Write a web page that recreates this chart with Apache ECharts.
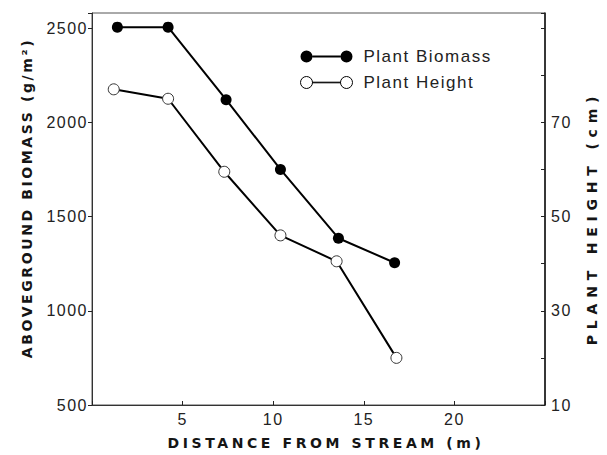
<!DOCTYPE html>
<html>
<head>
<meta charset="utf-8">
<script src="https://cdn.jsdelivr.net/npm/echarts@6/dist/echarts.min.js"></script>
<style>
  html, body { margin: 0; padding: 0; background: #fff; }
  #chart { width: 607px; height: 455px; }
</style>
</head>
<body>
<div id="chart"></div>
<script>
// Distance from the stream (m) at which each sample was taken
const biomassDistance = [1.4, 4.2, 7.4, 10.4, 13.6, 16.7];
const heightDistance  = [1.2, 4.2, 7.3, 10.4, 13.5, 16.8];

// Aboveground biomass (g/m²) and plant height (cm)
const biomassValues = [2505, 2505, 2120, 1750, 1385, 1255];
const heightValues  = [77, 75, 59.5, 46, 40.5, 20];

// Axis ticks that carry labels
const distanceTicks = [5, 10, 15, 20];
const biomassTicks  = [500, 1000, 1500, 2000, 2500];
const heightTicks   = [10, 30, 50, 70];

const seriesNames   = ['Plant Biomass', 'Plant Height'];
const distanceTitle = 'DISTANCE FROM STREAM (m)';
const biomassTitle  = 'ABOVEGROUND BIOMASS (g/m²)';
const heightTitle   = 'PLANT HEIGHT (cm)';

const ink = '#151515';
const tickFont = { fontFamily: 'Liberation Sans', fontSize: 16, color: '#222' };
const titleFont = { fontFamily: 'DejaVu Sans', fontWeight: 'bold', fontSize: 14, color: ink };

// two end dots joined by a thin bar, used as legend keys
const filledIcon = 'path://M0,6a6,6 0 1,0 12,0a6,6 0 1,0 -12,0z' +
                   'M12,5h28v2h-28z' +
                   'M40,6a6,6 0 1,0 12,0a6,6 0 1,0 -12,0z';
const hollowIcon = 'path://M0,6a6,6 0 1,0 12,0a6,6 0 1,0 -12,0z' +
                   'M12,5.7h28v0.6h-28z' +
                   'M40,6a6,6 0 1,0 12,0a6,6 0 1,0 -12,0z';

const chart = echarts.init(document.getElementById('chart'), null, { renderer: 'svg' });

chart.setOption({
  animation: false,
  backgroundColor: '#fff',
  grid: {
    left: 92, right: 57, top: 13, bottom: 50,
    show: true, borderColor: '#555', borderWidth: 1, backgroundColor: 'transparent'
  },
  legend: {
    orient: 'vertical',
    left: 295, top: 43,
    itemWidth: 52, itemHeight: 12, itemGap: 9,
    textStyle: { fontFamily: 'Liberation Sans', fontSize: 17, color: '#222', padding: [0, 0, 0, 6] },
    data: [
      { name: seriesNames[0], icon: filledIcon,
        itemStyle: { color: '#000', borderWidth: 0 } },
      { name: seriesNames[1], icon: hollowIcon,
        itemStyle: { color: '#fff', borderColor: '#000', borderWidth: 1 } }
    ]
  },
  xAxis: {
    type: 'value', min: 0, max: 25, interval: 5,
    name: distanceTitle, nameLocation: 'middle', nameGap: 31,
    nameTextStyle: Object.assign({ padding: [0, 0, 0, 15] }, titleFont),
    axisLine: { lineStyle: { color: '#333', width: 1 } },
    axisTick: { inside: true, length: 4, lineStyle: { color: '#222' } },
    axisLabel: Object.assign({
      margin: 6,
      formatter: v => distanceTicks.includes(v) ? String(v) : ''
    }, tickFont),
    splitLine: { show: false }
  },
  yAxis: [
    {
      type: 'value', position: 'left', min: 500, max: 2580, interval: 500,
      name: biomassTitle, nameLocation: 'middle', nameGap: 58,
      nameTextStyle: Object.assign({ padding: [0, 0, 0, 22] }, titleFont),
      axisLine: { show: true, lineStyle: { color: '#333', width: 1 } },
      axisTick: { inside: false, length: 4, lineStyle: { color: '#222' } },
      axisLabel: Object.assign({
        margin: 4,
        formatter: v => biomassTicks.includes(v) ? String(v) : ''
      }, tickFont),
      splitLine: { show: false }
    },
    {
      type: 'value', position: 'right', min: 10, max: 93.2, interval: 10,
      name: heightTitle, nameLocation: 'middle', nameGap: 40,
      nameTextStyle: Object.assign({ padding: [0, 18, 0, 0] }, titleFont),
      axisLine: { show: true, lineStyle: { color: '#111', width: 1.5 } },
      axisTick: { inside: true, length: 4, lineStyle: { color: '#222' } },
      axisLabel: Object.assign({
        margin: 6,
        formatter: v => heightTicks.includes(v) ? String(v) : ''
      }, tickFont),
      splitLine: { show: false }
    }
  ],
  series: [
    {
      name: seriesNames[0], type: 'line', yAxisIndex: 0,
      data: biomassDistance.map((d, i) => [d, biomassValues[i]]),
      symbol: 'circle', symbolSize: 11,
      itemStyle: { color: '#000', borderWidth: 0 },
      lineStyle: { color: '#000', width: 2 },
      z: 3
    },
    {
      name: seriesNames[1], type: 'line', yAxisIndex: 1,
      data: heightDistance.map((d, i) => [d, heightValues[i]]),
      symbol: 'circle', symbolSize: 11,
      itemStyle: { color: '#fff', borderColor: '#333', borderWidth: 1 },
      lineStyle: { color: '#000', width: 2 },
      z: 2
    }
  ]
});

// loose, typewriter-like tracking for the labels
const tracking = new Map([
  [biomassTitle, '2.6px'],
  [heightTitle, '5.8px'],
  [distanceTitle, '3.6px']
]);
function applyTracking() {
  chart.getDom().querySelectorAll('text').forEach(t => {
    t.style.letterSpacing = tracking.get(t.textContent.trim()) || '1.5px';
  });
}
chart.on('finished', applyTracking);
applyTracking();
</script>
</body>
</html>
